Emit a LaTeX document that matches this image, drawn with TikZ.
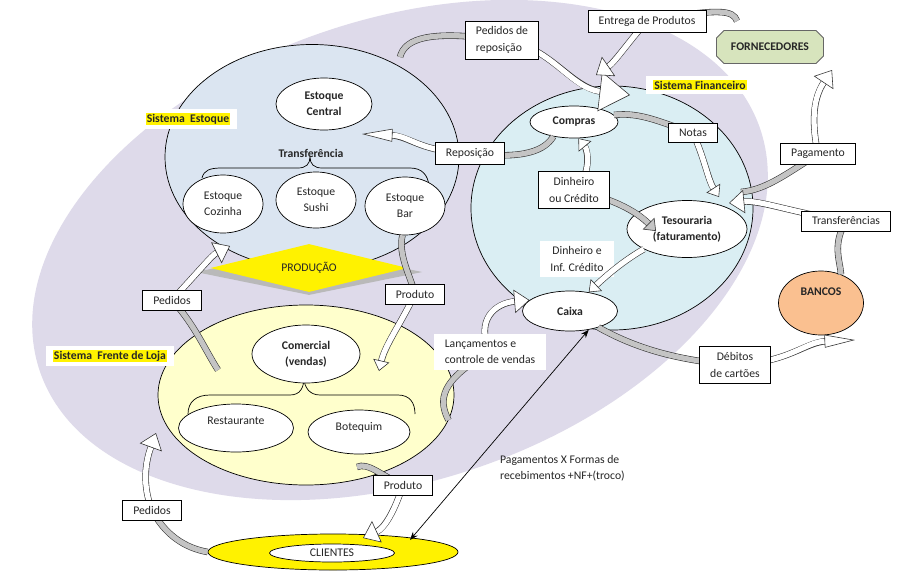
\documentclass[tikz,border=0pt]{standalone}
\usepackage{fontspec}
\setmainfont{Carlito}
\usetikzlibrary{arrows.meta,shapes.geometric,shapes.misc}
\definecolor{lavenda}{RGB}{222,218,234}
\definecolor{estoqueazul}{RGB}{219,229,241}
\definecolor{financeazul}{RGB}{218,238,243}
\definecolor{lojacreme}{RGB}{255,255,204}
\definecolor{bandcinza}{RGB}{196,196,196}
\definecolor{fornverde}{RGB}{215,228,189}
\definecolor{bancolaranja}{RGB}{250,192,144}
\definecolor{textocinza}{RGB}{38,38,38}
\setlength{\fboxsep}{1pt}
\pgfdeclarelayer{back}
\pgfdeclarelayer{flow}
\pgfsetlayers{back,flow,main}
\tikzset{bandcut/.initial=12pt}

\begin{document}
\begin{tikzpicture}[x=0.03cm,y=-0.03cm,>=Stealth,
  font=\fontsize{10}{14}\selectfont,text=textocinza,
  oval/.style={draw,ellipse,fill=white,inner sep=0pt,line width=0.6pt,align=center},
  sysoval/.style={draw,ellipse,inner sep=0pt,line width=0.6pt},
  box/.style={draw,fill=white,inner xsep=9pt,inner ysep=5pt,align=center,line width=0.6pt},
  plainbox/.style={fill=white,inner xsep=9pt,inner ysep=5pt},
  syslabel/.style={fill=white,inner xsep=6pt,inner ysep=3.5pt,font=\fontsize{10}{14}\selectfont\bfseries},
  smallhead/.style={bandcut=8pt,-{Triangle[length=9pt,width=14pt,color=black!80,fill=#1,line width=0.5pt]}},
  smallhead/.default=white,
  midhead/.style={bandcut=12pt,-{Triangle[length=13pt,width=20pt,color=black!80,fill=#1,line width=0.5pt]}},
  midhead/.default=white,
  flathead/.style={bandcut=24pt,-{Triangle[length=26pt,width=11pt,color=black!80,fill=#1,line width=0.5pt]}},
  flathead/.default=white,
  bighead/.style={bandcut=24pt,-{Triangle[length=26pt,width=34pt,color=black!80,fill=#1,line width=0.5pt]}},
  bighead/.default=white,
  tailband/.style={line width=4.5pt,draw=bandcinza,preaction={draw=black!80,line width=5.5pt}},
  headband/.style={line width=4.5pt,draw=white,
    preaction={draw=black!80,line width=5.5pt,arrows=-,shorten >=\pgfkeysvalueof{/tikz/bandcut}},midhead},
  grayband/.style={headband,draw=bandcinza,smallhead=bandcinza}]

\useasboundingbox (0,0) rectangle (916,579);

\begin{pgfonlayer}{back}
  \fill[white] (0,0) rectangle (916,579);
  \node[ellipse,fill=lavenda,inner sep=0pt,minimum width=22.8cm,minimum height=13.86cm,rotate=18.5] (empresa) at (400,250) {};
  \node[sysoval,fill=estoqueazul,minimum width=8.82cm,minimum height=6.75cm] (estoque) at (312,157) {};
  \node[sysoval,fill=financeazul,minimum width=8.46cm,minimum height=7.32cm] (finan) at (612,208) {};
  \node[sysoval,fill=lojacreme,minimum width=8.88cm,minimum height=5.4cm] (frente) at (306,395) {};
  \node[diamond,aspect=4,fill=gray!55,inner sep=0pt,minimum width=6.8cm,minimum height=1.38cm] (prodsombra) at (309,272) {};
  \node[diamond,aspect=4,fill=yellow,inner sep=0pt,minimum width=5.91cm,minimum height=1.44cm] (producao) at (309,268) {PRODUÇÃO};

  % chaves
  \draw[line width=0.6pt] (202,178) .. controls (204,170) and (210,168) .. (222,168) -- (298,168)
    .. controls (306,168) and (310,164) .. (310,157) .. controls (310,164) and (314,168) .. (322,168)
    -- (410,168) .. controls (422,168) and (428,175) .. (429,186);
  \draw[line width=0.6pt] (188,414) .. controls (188,402) and (196,395) .. (210,395) -- (290,395)
    .. controls (300,395) and (304,388) .. (304,377) .. controls (304,388) and (310,395) .. (320,395)
    -- (398,395) .. controls (410,395) and (415,403) .. (415,414);

  \node[font=\fontsize{10}{14}\selectfont\bfseries] (transfint) at (311,153) {Transferência};
  \node[oval,font=\fontsize{10}{14}\selectfont\bfseries,minimum width=2.88cm,minimum height=1.56cm] (central) at (324,104) {Estoque\\Central};
  \node[oval,minimum width=2.4cm,minimum height=1.74cm] (cozinha) at (223,204) {Estoque\\Cozinha};
  \node[oval,minimum width=2.4cm,minimum height=1.68cm] (sushi) at (316,200) {Estoque\\Sushi};
  \node[oval,minimum width=2.4cm,minimum height=1.74cm] (bar) at (405,206) {Estoque\\Bar};
  \node[oval,font=\fontsize{10}{14}\selectfont\bfseries,minimum width=2.64cm,minimum height=0.96cm] (compras) at (574,122) {Compras};
  \node[oval,font=\fontsize{10}{14}\selectfont\bfseries,minimum width=3.6cm,minimum height=1.71cm] (tesouraria) at (687,229) {Tesouraria\\(faturamento)};
  \node[oval,font=\fontsize{10}{14}\selectfont\bfseries,minimum width=2.85cm,minimum height=1.2cm] (caixa) at (570,311) {Caixa};
  \node[oval,font=\fontsize{10}{14}\selectfont\bfseries,minimum width=3.24cm,minimum height=1.74cm] (comercial) at (306,354) {Comercial\\(vendas)};
  \node[oval,minimum width=3.45cm,minimum height=1.44cm,text depth=12pt] (restaurante) at (236,428) {Restaurante};
  \node[oval,minimum width=3.06cm,minimum height=1.32cm,text depth=9pt] (botequim) at (359,432) {Botequim};
  \node[oval,fill=bancolaranja,font=\fontsize{10}{14}\selectfont\bfseries,minimum width=2.55cm,minimum height=1.92cm,text height=7pt,text depth=19pt] (bancos) at (821,303) {BANCOS};
  \node[oval,fill=yellow,minimum width=7.5cm,minimum height=1.08cm] (clientes) at (333,552) {};
  \node[oval,minimum width=3.75cm,minimum height=0.54cm] (clientestxt) at (332,553) {CLIENTES};
  \node[plainbox,align=center] (dinheiroinf) at (577,259) {Dinheiro e\\Inf. Crédito};
\end{pgfonlayer}

% caixas de texto
\node[box,align=left] (pedrep) at (502,40) {Pedidos de\\reposição};
\node[box] (entrega) at (647,21) {Entrega de Produtos};
\node[box] (repos) at (470,153) {Reposição};
\node[box] (notas) at (693,133) {Notas};
\node[box] (pagamento) at (818,154) {Pagamento};
\node[box] (transf) at (846,221) {Transferências};
\node[box] (debitos) at (735,365) {Débitos\\de cartões};
\node[box] (dinheiro) at (574,190) {Dinheiro\\ou Crédito};
\node[plainbox,align=left] (lanc) at (490,352) {Lançamentos e\\controle de vendas};
\node[box] (pedidos1) at (172,300) {Pedidos};
\node[box] (produto1) at (415,294) {Produto};
\node[box] (produto2) at (403,485) {Produto};
\node[box] (pedidos2) at (152,510) {Pedidos};
\node[chamfered rectangle,draw=black!60,line width=0.8pt,fill=fornverde,font=\fontsize{10}{14}\selectfont\bfseries,
  minimum width=3.21cm,minimum height=0.99cm,inner sep=0pt] (forn) at (770,47) {FORNECEDORES};
\node[align=left,anchor=west] (pagtxt) at (496,468) {Pagamentos X Formas de\\recebimentos +NF+(troco)};

\node[syslabel] (labest) at (188,119) {\colorbox{yellow}{Sistema\ \ Estoque}};
\node[syslabel] (labfin) at (700,85) {\colorbox{yellow}{Sistema Financeiro}};
\node[syslabel] (labloja) at (110,356) {\colorbox{yellow}{Sistema\ \ Frente de Loja}};

% pontas soltas
\coordinate (pedreptail) at (400,57);
\coordinate (pedreptip) at (630,95);
\coordinate (entregatail) at (737,21);
\coordinate (entregatip) at (596,75);
\coordinate (repostip) at (362,134);
\coordinate (dintip) at (656,231);
\coordinate (notastip) at (719,197);
\coordinate (pagtail) at (741,192);
\coordinate (pagtip) at (832,70);
\coordinate (transftip) at (729,203);
\coordinate (debtip) at (855,340);
\coordinate (pedtail) at (218,370);
\coordinate (pedtip) at (230,246);
\coordinate (prodtip) at (379,371);
\coordinate (prod2tail) at (357,467);
\coordinate (prod2tip) at (363,538);
\coordinate (ped2tip) at (156,433);
\coordinate (clipag) at (410,540);

\begin{pgfonlayer}{flow}
  \draw[tailband] (pedreptail) .. controls (405,38) and (430,30) .. (pedrep.center);
  \draw[headband,bighead] (pedrep.center) .. controls (550,45) and (570,88) .. (pedreptip);
  \draw[tailband] (entregatail) .. controls (733,10) and (720,8) .. (entrega.center);
  \draw[headband] (entrega.center) .. controls (630,40) and (615,62) .. (entregatip);
  \draw[tailband] (compras.215) .. controls (545,150) and (525,160) .. (repos.center);
  \draw[headband,flathead] (repos.center) .. controls (420,152) and (410,136) .. (repostip);
  \draw[headband,smallhead] (dinheiro.center) .. controls (592,175) and (588,150) .. (compras.-75);
  \draw[grayband] (dinheiro.center) .. controls (620,200) and (640,215) .. (dintip);
  \draw[headband,smallhead] (tesouraria.205) .. controls (628,258) and (610,272) .. (caixa.45);
  \draw[tailband] (compras.10) .. controls (640,112) and (660,122) .. (notas.center);
  \draw[headband,smallhead] (notas.center) .. controls (705,160) and (708,180) .. (notastip);
  \draw[tailband] (pagtail) .. controls (765,190) and (785,175) .. (pagamento.center);
  \draw[headband] (pagamento.center) .. controls (812,125) and (812,100) .. (pagtip);
  \draw[tailband] (bancos.55) .. controls (840,260) and (832,245) .. (transf.center);
  \draw[headband] (transf.center) .. controls (790,212) and (760,200) .. (transftip);
  \draw[tailband] (caixa.-30) .. controls (630,345) and (670,360) .. (debitos.center);
  \draw[headband,flathead] (debitos.center) .. controls (790,362) and (805,342) .. (debtip);
  \draw[tailband] (frente.-10) .. controls (438,400) and (440,380) .. (lanc.center);
  \draw[headband] (lanc.center) .. controls (475,320) and (495,303) .. (caixa.165);
  \draw[tailband] (pedtail) .. controls (205,350) and (195,325) .. (pedidos1.center);
  \draw[headband] (pedidos1.center) .. controls (200,270) and (212,255) .. (pedtip);
  \draw[tailband] (bar.-95) .. controls (398,255) and (410,275) .. (produto1.center);
  \draw[headband,smallhead] (produto1.center) .. controls (400,325) and (385,345) .. (prodtip);
  \draw[tailband] (prod2tail) .. controls (368,462) and (380,475) .. (produto2.center);
  \draw[headband] (produto2.center) .. controls (395,510) and (385,528) .. (prod2tip);
  \draw[tailband] (clientes.west) .. controls (185,548) and (165,535) .. (pedidos2.center);
  \draw[headband] (pedidos2.center) .. controls (140,480) and (148,455) .. (ped2tip);
  \draw[{Stealth[length=7pt]}-{Stealth[length=7pt]},line width=0.6pt,black] (caixa.-45) -- (clipag);
\end{pgfonlayer}
\end{tikzpicture}
\end{document}
